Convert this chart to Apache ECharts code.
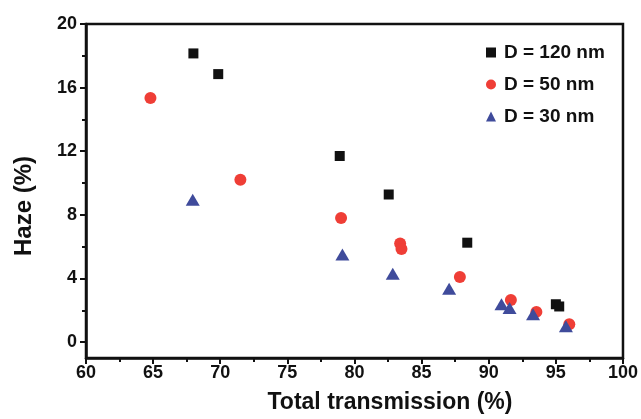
<!DOCTYPE html>
<html>
<head>
<meta charset="utf-8">
<script src="https://cdn.jsdelivr.net/npm/echarts@6/dist/echarts.min.js"></script>
<style>
  html, body {margin: 0; padding: 0; background: #fff;}
  #chart {width: 641px; height: 419px;}
</style>
</head>
<body>
<div id="chart"></div>
<script>
const seriesNames = ['D = 120 nm', 'D = 50 nm', 'D = 30 nm']

// [total transmission %, haze %]
const d120 = [[68.0, 18.15], [69.85, 16.85], [78.9, 11.7], [82.55, 9.28], [88.4, 6.25], [95.0, 2.38], [95.25, 2.24]]
const d50 = [[64.8, 15.35], [71.5, 10.2], [79.0, 7.8], [83.4, 6.2], [83.5, 5.85], [87.85, 4.1], [91.65, 2.65], [93.55, 1.9], [96.0, 1.12]]
const d30 = [[67.95, 8.95], [79.1, 5.5], [82.85, 4.3], [87.05, 3.35], [90.95, 2.38], [91.55, 2.15], [93.3, 1.75], [95.75, 1.0]]

const yMajor = [0, 4, 8, 12, 16, 20]
const yMinor = [2, 6, 10, 14, 18]

const black = '#111111'
const red = '#ef3e36'
const blue = '#3f4b9b'
const font = '"Liberation Sans", Arial, sans-serif'

const chart = echarts.init(document.getElementById('chart'))

chart.setOption({
  backgroundColor: '#fff',
  animation: false,
  grid: {
    left: 86, right: 18, top: 24, bottom: 61,
    show: true,
    borderColor: black,
    borderWidth: 2.5,
  },
  legend: {
    orient: 'vertical',
    left: 481,
    top: 38,
    itemWidth: 10,
    itemHeight: 10,
    itemGap: 13,
    data: seriesNames,
    textStyle: {
      fontFamily: font,
      fontWeight: 'bold',
      fontSize: 19,
      color: black,
      padding: [0, 0, 0, 3],
    },
  },
  xAxis: {
    type: 'value',
    min: 60,
    max: 100,
    interval: 5,
    splitLine: {show: false},
    axisLine: {onZero: false, lineStyle: {color: black, width: 2.5}},
    axisTick: {inside: false, length: 6, lineStyle: {color: black, width: 2}},
    minorTick: {show: true, splitNumber: 2, length: 4, lineStyle: {color: black, width: 2}},
    axisLabel: {
      margin: 6,
      fontFamily: font,
      fontWeight: 'bold',
      fontSize: 18,
      color: black,
    },
    name: 'Total transmission (%)',
    nameLocation: 'middle',
    nameGap: 33,
    nameTextStyle: {
      fontFamily: font,
      fontWeight: 'bold',
      fontSize: 23,
      color: black,
      padding: [0, 0, 0, 71],
    },
  },
  yAxis: [{
    type: 'value',
    min: -1,
    max: 20,
    splitLine: {show: false},
    axisLine: {onZero: false, lineStyle: {color: black, width: 2.5}},
    axisTick: {customValues: yMajor, length: 6, lineStyle: {color: black, width: 2}},
    axisLabel: {
      customValues: yMajor,
      margin: 9,
      fontFamily: font,
      fontWeight: 'bold',
      fontSize: 18,
      color: black,
    },
    name: 'Haze (%)',
    nameLocation: 'middle',
    nameGap: 50,
    nameTextStyle: {
      fontFamily: font,
      fontWeight: 'bold',
      fontSize: 24,
      color: black,
      padding: [0, 30, 0, 0],
    },
  }, {
    type: 'value',
    min: -1,
    max: 20,
    position: 'left',
    splitLine: {show: false},
    axisLine: {show: false},
    axisTick: {customValues: yMinor, length: 4, lineStyle: {color: black, width: 2}},
    axisLabel: {show: false},
  }],
  series: [{
    name: seriesNames[0],
    type: 'scatter',
    data: d120,
    symbol: 'rect',
    symbolSize: 10,
    itemStyle: {color: black, opacity: 1},
  }, {
    name: seriesNames[1],
    type: 'scatter',
    data: d50,
    symbol: 'circle',
    symbolSize: 12,
    itemStyle: {color: red, opacity: 1},
  }, {
    name: seriesNames[2],
    type: 'scatter',
    data: d30,
    symbol: 'triangle',
    symbolSize: [14, 12],
    itemStyle: {color: blue, opacity: 1},
  }],
})
</script>
</body>
</html>
